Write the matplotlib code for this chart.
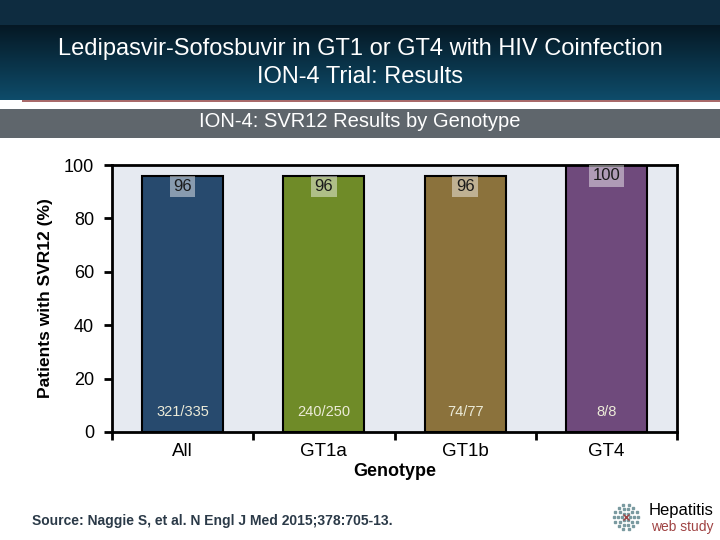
import numpy as np
import matplotlib
matplotlib.use("Agg")
import matplotlib.pyplot as plt
from matplotlib.patches import Rectangle

# data
genotypes = ["All", "GT1a", "GT1b", "GT4"]
svr12 = [96, 96, 96, 100]
counts = ["321/335", "240/250", "74/77", "8/8"]
bar_colors = ["#274a6e", "#6f8b28", "#8b723c", "#6f4a7c"]

plt.rcParams['font.family'] = ['Liberation Sans', 'DejaVu Sans']

fig = plt.figure(figsize=(7.2, 5.4), dpi=100)
fig.patch.set_facecolor("white")

# header band (gradient)
hdr = fig.add_axes([0, 1 - 100/540, 1, 100/540])
top = np.array([0x0e, 0x2c, 0x40]) / 255
mid = np.array([0x05, 0x18, 0x24]) / 255
bot = np.array([0x0e, 0x4c, 0x6a]) / 255
img = np.zeros((100, 1, 3))
for i in range(100):
    t = i / 99
    if t < 0.25:
        img[i, 0] = top
    else:
        s = (t - 0.25) / 0.75
        img[i, 0] = mid * (1 - s) + bot * s
hdr.imshow(img, aspect="auto", extent=[0, 1, 0, 1])
hdr.set_axis_off()

fig.add_artist(Rectangle((22/720, 1 - 102/540), 1, 2/540, transform=fig.transFigure,
                         color="#a86a6a", lw=0))
fig.add_artist(Rectangle((0, 1 - 138/540), 1, 29/540, transform=fig.transFigure,
                         color="#5f666c", lw=0))

fig.text(0.5, 1 - 49/540, "Ledipasvir-Sofosbuvir in GT1 or GT4 with HIV Coinfection",
         ha="center", va="center", color="white", fontsize=17)
fig.text(0.5, 1 - 77/540, "ION-4 Trial: Results",
         ha="center", va="center", color="white", fontsize=17)
fig.text(0.5, 1 - 122/540, "ION-4: SVR12 Results by Genotype",
         ha="center", va="center", color="white", fontsize=14.5)

# chart
ax = fig.add_axes([112/720, 1 - 432/540, 565/720, 267/540])
ax.set_facecolor("#e6eaf1")
x = np.arange(len(genotypes))
ax.bar(x, svr12, width=0.575, color=bar_colors, edgecolor="black", linewidth=1.5, zorder=2)
for xi, v in zip(x, svr12):
    ax.text(xi, v - 4, str(v), ha="center", va="center", fontsize=12, color="#1a1a1a",
            bbox=dict(boxstyle="square,pad=0.2", fc="white", ec="none", alpha=0.45), zorder=3)
for xi, c in zip(x, counts):
    ax.text(xi, 7.5, c, ha="center", va="center", fontsize=10.5, color="#ecebd8", zorder=3)

ax.set_xlim(-0.5, len(genotypes) - 0.5)
ax.set_ylim(0, 100)
ax.set_yticks(range(0, 101, 20))
ax.set_xticks(x)
ax.set_xticklabels(genotypes, fontsize=13.5)
ax.set_xticks(np.arange(-0.5, len(genotypes), 1), minor=True)
ax.tick_params(axis="x", which="major", length=0, pad=8)
ax.tick_params(axis="x", which="minor", length=6, width=2, direction="out")
ax.tick_params(axis="y", length=6, width=2, direction="out", labelsize=13, pad=7)
for s in ax.spines.values():
    s.set_linewidth(2)
ax.set_ylabel("Patients with SVR12 (%)", fontsize=12.5, fontweight="bold", labelpad=8)
ax.set_xlabel("Genotype", fontsize=13, fontweight="bold", labelpad=2)

# footer
fig.text(32/720, 1 - 521/540, "Source: Naggie S, et al. N Engl J Med 2015;378:705-13.",
         ha="left", va="center", fontsize=10, fontweight="bold", color="#2b3a48")
fig.text(649/720, 1 - 511/540, "Hepatitis", ha="left", va="center", fontsize=12, color="black")
fig.text(651/720, 1 - 527/540, "web study", ha="left", va="center", fontsize=10, color="#a04444")

# logo dots
cx, cy = 626/720, 1 - 517/540
for r, n in [(4, 6), (8, 10), (12, 14)]:
    ang = np.linspace(0, 2*np.pi, n, endpoint=False)
    fig.add_artist(plt.Line2D(cx + r*np.cos(ang)/720, cy + r*np.sin(ang)/540,
                              ls="none", marker="s", ms=2, color="#7a9aa0",
                              transform=fig.transFigure))
fig.add_artist(plt.Line2D([cx], [cy], ls="none", marker="x", ms=5, color="#a04444",
                          transform=fig.transFigure))

fig.savefig("out.png", dpi=100)
